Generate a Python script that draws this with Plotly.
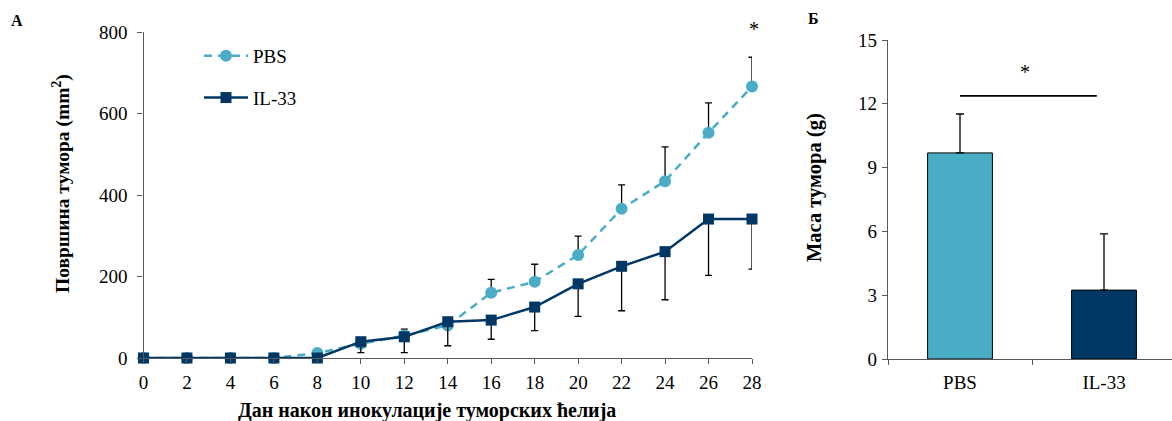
import plotly.graph_objects as go

# Tumour area over time (mm²)
days = [0, 2, 4, 6, 8, 10, 12, 14, 16, 18, 20, 22, 24, 26, 28]
pbs_area = [0, 0, 0, 0, 12, 35, 55, 80, 160, 187, 253, 366, 434, 553, 666]
pbs_err = [0, 0, 0, 0, 0, 5, 16, 8, 33, 43, 46, 59, 84, 73, 72]
il33_area = [0, 0, 0, 0, 0, 40, 52, 89, 93, 125, 182, 225, 261, 341, 341]
il33_err = [0, 0, 0, 0, 0, 27, 39, 59, 47, 58, 80, 109, 118, 138, 123]

# Tumour mass at end point (g)
groups = ["PBS", "IL-33"]
mass = [9.69, 3.24]
mass_err = [1.83, 2.64]

LIGHT = "#4BACC6"
DARK = "#003764"
FONT = "'Liberation Serif', 'Times New Roman', Times, serif"
AXIS = "#595959"

W, H = 1172, 421

fig = go.Figure()

fig.add_trace(go.Scatter(
    x=days, y=pbs_area, name="PBS", mode="lines+markers",
    line=dict(color=LIGHT, width=2.5, dash="8px,6px"),
    marker=dict(symbol="circle", size=12, color=LIGHT),
    error_y=dict(type="data", symmetric=False, array=pbs_err,
                 arrayminus=[0] * len(days), color="black",
                 thickness=1.3, width=3.5),
    legendgroup="a", cliponaxis=False, xaxis="x", yaxis="y",
))
fig.add_trace(go.Scatter(
    x=days, y=il33_area, name="IL-33", mode="lines+markers",
    line=dict(color=DARK, width=2.5),
    marker=dict(symbol="square", size=11, color=DARK),
    error_y=dict(type="data", symmetric=False, array=[0] * len(days),
                 arrayminus=il33_err, color="black",
                 thickness=1.3, width=3.5),
    legendgroup="b", cliponaxis=False, xaxis="x", yaxis="y",
))

fig.add_trace(go.Bar(
    x=groups, y=mass, width=0.45,
    marker=dict(color=[LIGHT, DARK], line=dict(color="black", width=1)),
    error_y=dict(type="data", symmetric=False, array=mass_err,
                 arrayminus=[0, 0], color="black", thickness=1.3, width=4),
    showlegend=False, xaxis="x2", yaxis="y2",
))


def px(xp):
    return xp / W


def py(yp):
    return (H - yp) / H


tick_font = dict(family=FONT, size=19, color="black")

common = dict(ticks="outside", ticklen=5, tickcolor=AXIS, showline=True,
              linecolor=AXIS, linewidth=1.3, showgrid=False, zeroline=False,
              tickfont=tick_font, automargin=False)

fig.update_layout(
    template="none",
    width=W, height=H,
    margin=dict(l=0, r=0, t=0, b=0, pad=0),
    paper_bgcolor="white", plot_bgcolor="white",
    font=dict(family=FONT, color="black"),
    legend=dict(x=px(199), y=py(37), xanchor="left", yanchor="top",
                font=dict(family=FONT, size=19, color="black"),
                bgcolor="rgba(0,0,0,0)", tracegroupgap=14, itemwidth=44),
    xaxis=dict(
        domain=[px(143.5), px(752)], range=[0, 28],
        tickmode="array", tickvals=days, ticklabelstandoff=2,
        anchor="y", **common,
    ),
    yaxis=dict(
        domain=[py(358), py(32)], range=[0, 800],
        tickmode="array", tickvals=[0, 200, 400, 600, 800],
        ticklabelstandoff=6,
        anchor="x", **common,
    ),
    xaxis2=dict(
        domain=[px(888), 1.0], range=[-0.5, 1.5 - 4 / 144],
        type="category", tickson="boundaries", ticklabelstandoff=6,
        anchor="y2", **common,
    ),
    yaxis2=dict(
        domain=[py(359), py(40)], range=[0, 15],
        tickmode="array", tickvals=[0, 3, 6, 9, 12, 15],
        ticklabelstandoff=1,
        anchor="x2", **common,
    ),
)

# Significance bracket between the two bars
fig.add_shape(type="line", xref="x2", yref="y2", x0=0, x1=0.95,
              y0=12.37, y1=12.37, line=dict(color="black", width=1.8))


def note(text, x, y, size, angle=0, bold=True):
    return dict(text=f"<b>{text}</b>" if bold else text,
                x=px(x), y=py(y), xref="paper", yref="paper",
                xanchor="center", yanchor="middle", showarrow=False,
                textangle=angle, font=dict(family=FONT, size=size, color="black"))


annotations = [
    note("Дан након инокулације туморских ћелија", 427, 410, 20),
    note("Површина тумора (mm<sup>2</sup>)", 61, 184, 19.5, angle=-90),
    note("Маса тумора (g)", 814, 188, 20.5, angle=-90),
    note("*", 1025, 72, 20, bold=False),
    note("*", 754, 29, 20, bold=False),
    note("A", 17, 20, 16),
    note("Б", 813, 18, 16),
]
fig.update_layout(annotations=annotations)

fig.write_html("out.html")
